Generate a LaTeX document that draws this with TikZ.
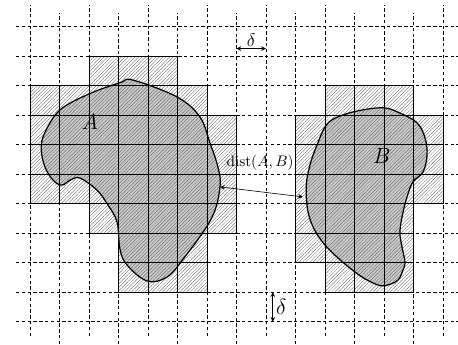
\documentclass[tikz,border=0pt]{standalone}
\usepackage{tikz}
\usetikzlibrary{arrows.meta, patterns.meta, calc}
\usepackage{amsmath}

\begin{document}
\begin{tikzpicture}[x=0.68cm, y=0.68cm]

% Define styles
\tikzstyle{gridline} = [line width=0.35pt, dash pattern=on 2.2pt off 1.6pt]
\tikzstyle{cell} = [draw, line width=0.6pt, pattern={Lines[angle=45, distance=1.6pt, line width=0.2pt]}, pattern color=black!65]
\tikzstyle{blob} = [line width=0.8pt]
\tikzstyle{arrow} = [thin, <->, >=stealth]

\useasboundingbox (-1.017,-0.756) rectangle (14.508,10.905);

% Outlines of the two sets
\def\shapeA{plot[smooth cycle, tension=0.6] coordinates {(3.49,8.19) (4.98,7.62) (5.76,6.94) (6.10,6.06) (6.37,5.24) (6.44,4.57) (6.15,3.50) (5.19,2.12) (4.64,1.51) (3.97,1.38) (3.29,1.92) (3.05,2.46) (2.95,3.38) (2.64,3.96) (2.27,4.46) (1.69,4.87) (1.36,4.80) (1.08,4.63) (0.78,4.80) (0.51,5.24) (0.38,5.85) (0.50,6.40) (1.02,7.18) (2.0,7.72) (3.05,8.10)}}
\def\shapeB{plot[smooth cycle, tension=0.6] coordinates {(10.34,6.90) (11.08,7.14) (11.97,7.25) (12.54,7.07) (13.12,6.74) (13.39,6.23) (13.46,5.65) (13.32,5.07) (12.98,4.74) (12.78,4.23) (12.61,3.55) (12.54,3.01) (12.61,2.53) (12.71,2.02) (12.64,1.75) (12.47,1.41) (12.10,1.24) (11.75,1.26) (11.02,1.68) (10.0,2.60) (9.49,3.48) (9.36,4.49) (9.49,5.31) (9.73,5.99) (10.0,6.60)}}

% Gray sets
\fill[gray!42] \shapeA;
\fill[gray!42] \shapeB;

% Grid
\foreach \k in {0,2,...,14}
  \draw[gridline] (\k,-0.485) -- (\k,10.735);
\foreach \k in {1,3,...,13}
  \draw[gridline] (\k,-0.76) -- (\k,10.465);
\foreach \j in {0,...,10}
  \draw[gridline] (-0.475,\j) -- (14.51,\j);

% Cells covering A
\foreach \y/\a/\b in {8/2/4, 7/0/5, 6/0/6, 5/0/6, 4/0/6, 3/2/6, 2/3/5, 1/3/5}
  \foreach \x in {\a,...,\b}
    \draw[cell] (\x,\y) rectangle ++(1,1);

% Cells covering B
\foreach \y/\a/\b in {7/10/12, 6/9/13, 5/9/13, 4/9/13, 3/9/12, 2/9/12, 1/10/12}
  \foreach \x in {\a,...,\b}
    \draw[cell] (\x,\y) rectangle ++(1,1);

% Outlines
\draw[blob] \shapeA;
\draw[blob] \shapeB;

% Labels
\node (labA) at (2.03,6.77) {\Large $A$};
\node (labB) at (11.93,5.62) {\Large $B$};

% Distance between the sets
\coordinate (pA) at (6.44,4.57);
\coordinate (pB) at (9.25,4.23);
\draw[arrow] (pA) -- (pB);
\node (labdist) at (7.80,5.38) {$\mathrm{dist}(A,B)$};

% Grid step
\coordinate (d1) at (7,9.26);
\coordinate (d2) at (8,9.26);
\draw[arrow] (d1) -- node[above, inner sep=1.2pt] (labd1) {\large $\delta$} (d2);
\coordinate (d3) at (8.23,1);
\coordinate (d4) at (8.23,0);
\draw[arrow] (d3) -- node[right, inner sep=2pt] (labd2) {\Large $\delta$} (d4);

\end{tikzpicture}
\end{document}
